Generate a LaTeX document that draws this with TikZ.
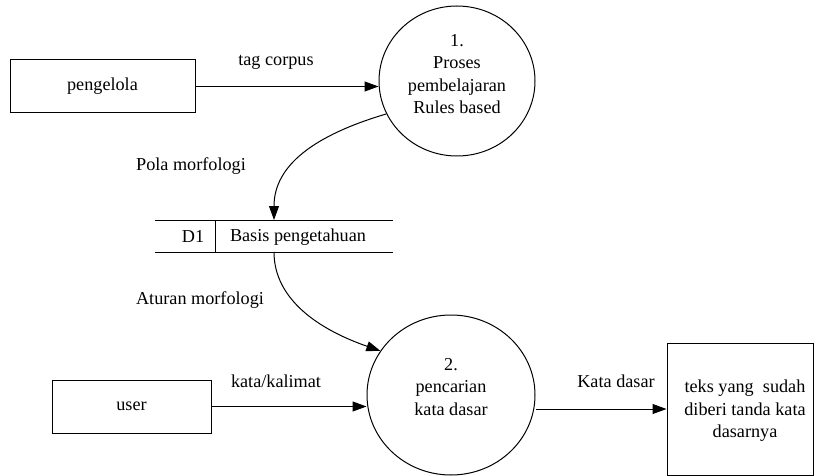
\documentclass[tikz,border=0pt]{standalone}
\usepackage{fontspec}
\setmainfont{Liberation Serif}
\newfontfamily\diafont{Liberation Serif}
\usetikzlibrary{shapes.geometric,arrows.meta}
\begin{document}
\begin{tikzpicture}[x=1pt,y=-1pt,
  every node/.style={font=\diafont\fontsize{18.2}{22.5}\selectfont, inner sep=0pt},
  ent/.style={draw, line width=1pt, rectangle},
  proc/.style={draw, line width=1pt, ellipse},
  flow/.style={line width=1pt, -{Triangle[length=14pt,width=10pt]}},
  lbl/.style={anchor=base},
  storeline/.style={line width=1pt},
  ]
\useasboundingbox (0,0) rectangle (814,476);
% entities
\node[ent, minimum width=185pt, minimum height=53pt] (peng) at (102.5,86.5) {pengelola};
\node[ent, minimum width=159pt, minimum height=53pt] (user) at (131.5,406.5) {user};
\node[ent, minimum width=146pt, minimum height=132pt] (out) at (740,409) {};
\node[align=center] (outtxt) at (745,411) {teks yang~ sudah\\diberi tanda kata\\dasarnya};
% processes
\node[proc, minimum width=156pt, minimum height=150pt] (c1) at (457,81) {};
\node[align=center] (c1txt) at (457,74) {1.\\Proses\\pembelajaran\\Rules based};
\node[proc, minimum width=168pt, minimum height=160pt] (c2) at (451,395) {};
\node[align=center] (c2txt) at (451,387) {2.\\pencarian\\kata dasar};
% data store
\coordinate (dsTL) at (155,220);
\coordinate (dsTR) at (393,220);
\coordinate (dsBL) at (155,252);
\coordinate (dsBR) at (393,252);
\coordinate (dsDivT) at (215,220);
\coordinate (dsDivB) at (215,252);
\coordinate (dsTop) at (274,220);
\coordinate (dsBot) at (274,252);
\draw[storeline] (dsTL) -- (dsTR);
\draw[storeline] (dsBL) -- (dsBR);
\draw[storeline] (dsDivT) -- (dsDivB);
\node[lbl] (d1) at (193,242) {D1};
\node[lbl] (dsname) at (298,241) {Basis pengetahuan};
% flows
\draw[flow] (peng.east) -- (peng.east -| c1.west);
\draw[flow] (user.east) -- (user.east -| c2.west);
\draw[flow] (out.west -| c2.east) -- (out.west);
\draw[flow] (c1.205) .. controls (315,135) and (274,165) .. (dsTop);
\draw[flow] (dsBot) .. controls (274,300) and (320,330) .. (c2.148);
% labels
\node[lbl] (l1) at (276,66) {tag corpus};
\node[lbl] (l2) at (276,387) {kata/kalimat};
\node[lbl] (l3) at (616,387) {Kata dasar};
\node[lbl] (l4) at (191,171) {Pola morfologi};
\node[lbl] (l5) at (200,304) {Aturan morfologi};
\end{tikzpicture}
\end{document}
